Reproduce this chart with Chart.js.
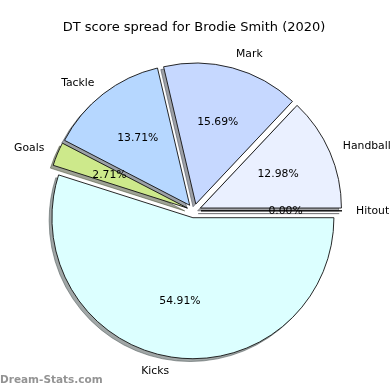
<!DOCTYPE html>
<html>
<head>
<meta charset="utf-8">
<script src="https://cdn.jsdelivr.net/npm/chart.js@4"></script>
<style>
  html, body { margin: 0; padding: 0; background: #fff; }
  #wrap { width: 390px; height: 390px; }
</style>
</head>
<body>
<div id="wrap"><canvas id="pieChart" width="390" height="390"></canvas></div>
<script>
// slices, matplotlib order (counter-clockwise from 3 o'clock)
const labels = ["Hitout", "Handball", "Mark", "Tackle", "Goals", "Kicks"];
const shares = [0.0, 12.98, 15.69, 13.71, 2.71, 54.91];
const sliceColors = ["#f2f6ff", "#eaf0ff", "#c6d8ff", "#b6d7ff", "#cde98b", "#dcffff"];

const titleText = "DT score spread for Brodie Smith (2020)";
const watermark = "Dream-Stats.com";

const EXPLODE = 7;      // px each slice is pushed out
const SHADOW_DX = -2.8;
const SHADOW_DY = 2.8;
const FONT = "'DejaVu Sans', sans-serif";

// chart.js goes clockwise, so hand it the slices reversed
const rev = (arr) => [...arr].reverse();

const hexToRgb = (hex) => {
  const n = parseInt(hex.slice(1), 16);
  return [(n >> 16) & 255, (n >> 8) & 255, n & 255];
};
const shadowOf = (hex) => {
  const [r, g, b] = hexToRgb(hex).map((v) => Math.round(v * 0.3));
  return `rgba(${r},${g},${b},0.5)`;
};

// centre of an exploded slice
const sliceGeom = (arc) => {
  const p = arc.getProps(["x", "y", "startAngle", "endAngle", "outerRadius"]);
  const mid = (p.startAngle + p.endAngle) / 2;
  return {
    dx: Math.cos(mid) * EXPLODE,
    dy: Math.sin(mid) * EXPLODE,
    cx: p.x + Math.cos(mid) * EXPLODE,
    cy: p.y + Math.sin(mid) * EXPLODE,
    mid,
    r: p.outerRadius,
    start: p.startAngle,
    end: p.endAngle,
  };
};

const wedgePath = (ctx, g, dx, dy) => {
  ctx.beginPath();
  ctx.moveTo(g.cx + dx, g.cy + dy);
  ctx.arc(g.cx + dx, g.cy + dy, g.r, g.start, g.end);
  ctx.closePath();
};

const pieExtras = {
  id: "pieExtras",
  beforeDatasetDraw(chart, args) {
    const ctx = chart.ctx;
    const meta = args.meta;
    const cols = rev(sliceColors);
    const vals = rev(shares);
    // shadows under everything
    ctx.save();
    meta.data.forEach((arc, i) => {
      const g = sliceGeom(arc);
      wedgePath(ctx, g, SHADOW_DX, SHADOW_DY);
      ctx.fillStyle = shadowOf(cols[i]);
      ctx.strokeStyle = shadowOf(cols[i]);
      ctx.lineWidth = 1;
      ctx.fill();
      ctx.stroke();
    });
    ctx.restore();
    // exploded slices
    meta.data.forEach((arc, i) => {
      const g = sliceGeom(arc);
      ctx.save();
      ctx.translate(g.dx, g.dy);
      arc.draw(ctx, chart.chartArea);
      ctx.restore();
      if (vals[i] === 0) {
        // empty slice still shows as a line
        ctx.save();
        wedgePath(ctx, g, 0, 0);
        ctx.strokeStyle = "#111";
        ctx.lineWidth = 1;
        ctx.stroke();
        ctx.restore();
      }
    });
    return false;
  },
  afterDatasetsDraw(chart) {
    const ctx = chart.ctx;
    const meta = chart.getDatasetMeta(0);
    const names = rev(labels);
    const vals = rev(shares);
    ctx.save();
    meta.data.forEach((arc, i) => {
      const g = sliceGeom(arc);
      ctx.fillStyle = "#000";
      ctx.font = `10.8px ${FONT}`;
      ctx.textBaseline = "middle";
      const cos = Math.cos(g.mid);
      const sin = Math.sin(g.mid);
      ctx.textAlign = cos > 0 ? "left" : "right";
      ctx.fillText(names[i], g.cx + 1.1 * g.r * cos, g.cy + 1.1 * g.r * sin);
      ctx.textAlign = "center";
      ctx.fillText(vals[i].toFixed(2) + "%", g.cx + 0.6 * g.r * cos, g.cy + 0.6 * g.r * sin);
    });
    ctx.font = `bold 10.5px ${FONT}`;
    ctx.fillStyle = "rgba(120,120,120,0.8)";
    ctx.textAlign = "left";
    ctx.textBaseline = "middle";
    ctx.fillText(watermark, 0, 380);
    ctx.restore();
  },
};

const data = {
  labels: rev(labels),
  datasets: [
    {
      data: rev(shares),
      backgroundColor: rev(sliceColors),
      borderColor: "#111",
      borderWidth: 0.9,
      offset: 0,
    },
  ],
};

const options = {
  responsive: false,
  animation: false,
  events: [],
  rotation: 90,
  radius: 141,
  layout: { padding: { left: 0, right: 2, top: 0, bottom: 4 } },
  plugins: {
    legend: { display: false },
    tooltip: { enabled: false },
    title: {
      display: true,
      text: titleText,
      color: "#000",
      font: { family: FONT, size: 13, weight: "normal" },
      padding: { top: 20, bottom: 0 },
    },
  },
};

new Chart("pieChart", { type: "pie", data, options, plugins: [pieExtras] });
</script>
</body>
</html>
